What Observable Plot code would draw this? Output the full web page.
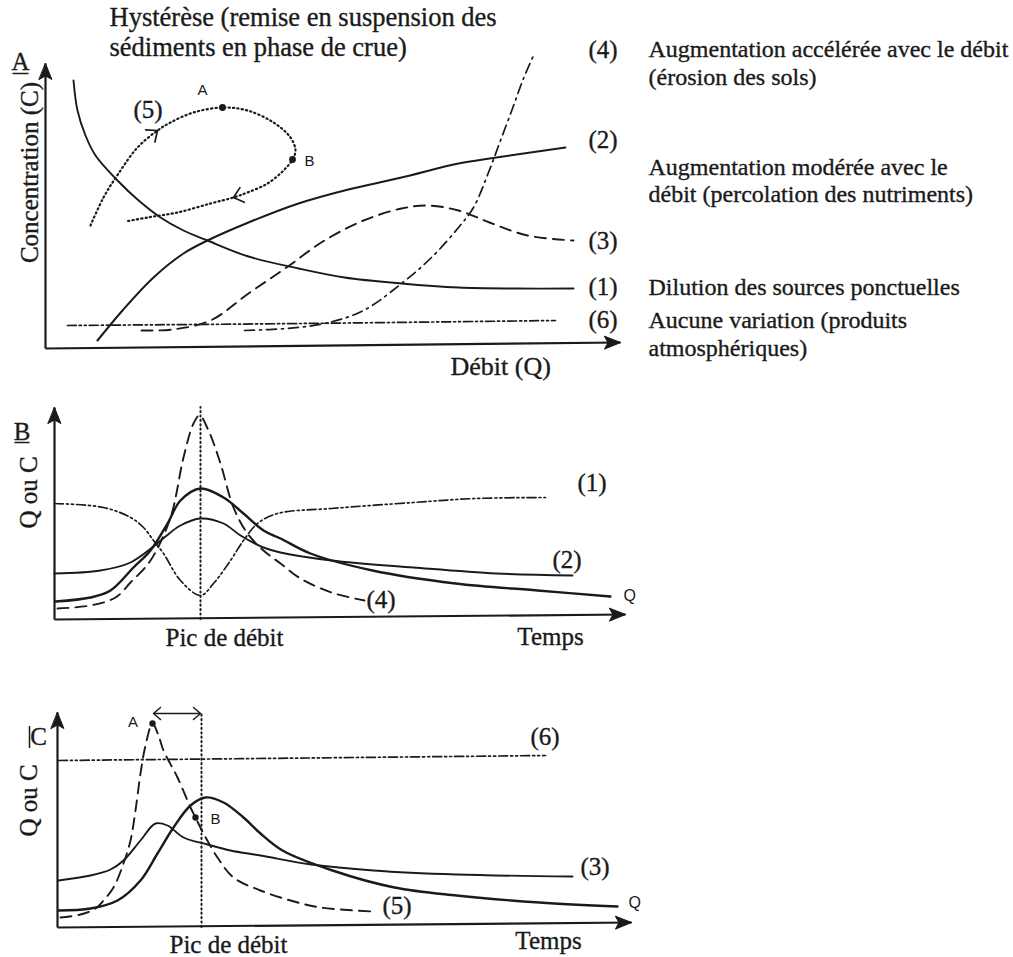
<!DOCTYPE html>
<html>
<head>
<meta charset="utf-8">
<script src="https://cdn.jsdelivr.net/npm/d3@7"></script>
<script src="https://cdn.jsdelivr.net/npm/@observablehq/plot@0.6"></script>
<style>
  html, body { margin: 0; padding: 0; background: #fff; overflow: hidden; }
  #fig { width: 1013px; height: 957px; }
  #fig svg { display: block; }
</style>
</head>
<body>
<div id="fig"></div>
<script>
// Schematic concentration / discharge relations. Units are arbitrary:
// x = discharge (panel A) or time (B, C); y = concentration or discharge.

// ---------- Panel A : C = f(Q) ----------
const A_dilution = [[5.6,53.6],[6.4,47.6],[8,42.6],[10,38.6],[14.4,33.6],[18.4,29.8],[23,26.2],[27.6,23.6],[32.4,21.6],[40.6,18.4],[50.6,16],[59.8,14.2],[71.2,13],[82.6,12.2],[94,12],[105.6,12]];
const A_percolation = [[10.4,1.6],[15.4,7.6],[21.6,14.2],[27.6,19],[32.4,21.6],[40.6,25.2],[50.6,29],[59.8,31.6],[71.2,34.2],[82.6,37],[90.2,38.2],[104,40.2]];
const A_curve3 = [[19.2,3.6],[25.4,3.8],[33,5.6],[40.6,11],[48.2,16.2],[55.8,21.6],[63.6,25.6],[71.2,28],[76.4,28.6],[82.6,27.6],[88.8,25.2],[96.4,22.6],[105.6,21.6]];
const A_erosion = [[39.8,3.6],[48.2,4],[55.8,5],[63.6,7.6],[71.2,13],[77.2,18.2],[82.6,24.2],[85.6,28.2],[88.6,35.2],[91,41.6],[93.4,48],[95.6,54],[97.6,58.6]];
const A_constant = [[4.4,4.6],[51,5],[102,5.6]];
const A_hysteresis = [[9,24.6],[11.6,30.2],[14.6,35],[18.4,40.2],[22.4,43.6],[25,45.2],[29.6,47.2],[35.4,48.2],[40.4,47.6],[45.6,45.2],[49,42.2],[50,39.6],[49.4,37.8],[47.6,35.6],[44.4,33],[40.4,31.2],[37.6,30.2],[33,29],[26.4,27.2],[20.4,26.2],[16,25.4]];
const A_hystArrowAt = [4, 16];           // loop vertices carrying a direction arrow
const A_hystPoints = [{i: 7, name: "A"}, {i: 12, name: "B"}];
const A_axes = [{x1: 0, y1: 0, x2: 115, y2: 1.2}, {x1: 0, y1: 0, x2: 0, y2: 57}];

const A_title = ["Hystérèse (remise en suspension des", "sédiments en phase de crue)"];
const A_numbers = ["(4)", "(2)", "(3)", "(1)", "(6)"];
const A_notes = ["Augmentation accélérée avec le débit", "(érosion des sols)", "Augmentation modérée avec le",
                 "débit (percolation des nutriments)", "Dilution des sources ponctuelles",
                 "Aucune variation (produits", "atmosphériques)"];

// ---------- Panel B : hydrograph and chemographs ----------
const B_time4 = [0.6,7.2,12.2,15.2,19.2,23.2,25.8,27.8,29,30.8,33.2,35.8,38.6,41.8,45.2,49.2,55.4,62];
const B_val4  = [2.2,2.8,4.4,7.4,11.8,20.4,32.4,39.2,40.8,37.8,31.2,22.4,17.2,13.8,11.2,8.2,5.4,3.8];
const B_timeQ = [0.2,7.2,11.2,15.8,19.2,22.6,25.2,29.2,33.8,37.8,41.8,45.2,51.2,63.6,80.2,96.6,111.2];
const B_valQ  = [3.6,4.4,5.8,10.4,13.8,19.2,23.8,26.2,24.4,21.2,17.8,16.2,13.2,9.8,7.2,5.8,4.6];
const B_time2 = [0,9.2,15.2,19.8,22.2,25.2,29.2,33.8,37.2,41.8,45.2,55.4,71.8,88.4,103.6];
const B_val2  = [9.2,9.8,11.4,14.6,16.6,18.8,20.2,19.2,16.8,14.4,13.4,11.8,10.4,9.2,8.8];
const B_time1 = [0,9.8,15.2,17.8,19.8,21.8,25.2,29.2,31.8,35.2,37.8,40.6,44.6,55.4,71.8,84.2,98.2];
const B_val1  = [23.2,22.4,20.4,18.4,15.8,13.2,7.8,4.8,7.2,11.8,15.8,19.2,21.2,22.2,23.4,24.2,24.4];
const B_peakTime = 29.2, B_top = 42.4;
const B_axes = [{x1: 0, y1: 0, x2: 114.2, y2: 1.0}, {x1: 0, y1: 0, x2: 0, y2: 42.4}];

// ---------- Panel C : hydrograph with hysteresis ----------
const C_time5 = [0.6,4.6,7.6,9.2,11.2,13.2,14.6,15.6,16.6,17.6,19,20.2,21.2,24,26.6,27.6,29.2,32,35.2,40.6,46.6,52.6,63.2];
const C_val5  = [2,2.6,3.8,5.4,8,12.8,17.4,23.4,30.8,36.4,40.8,38.4,35.4,30,24,22,18.8,14,10,7.4,5.4,4,3.2];
const C_timeQ = [0.2,6.6,12,16.6,20,23.2,26.6,29.6,33.2,37.2,40.6,45,55,67.4,79.8,96.4,112];
const C_valQ  = [3.4,3.8,5.4,9.4,14.8,20,24.4,26,25,22,18.8,15.4,11.4,8,6.4,5,4.2];
const C_time3 = [0.2,6.6,10.6,13.2,16.6,19.6,22,25.2,30,34.6,40.6,50.8,63.2,79.8,103];
const C_val3  = [9.4,10.4,11.6,13.4,17.4,20.8,20.4,18,16.6,15.4,14.4,12.6,11.4,10.6,10.2];
const C_time6 = [0.2,50,97.6];
const C_val6  = [33.4,33.9,34.4];
const C_points5 = [{i: 10, name: "A"}, {i: 15, name: "B"}];
const C_peakTime = 28.8, C_top = 42.8, C_lagStart = 19.2, C_lagEnd = 28.6;
const C_axes = [{x1: 0, y1: 0, x2: 114.8, y2: 1.0}, {x1: 0, y1: 0, x2: 0, y2: 43}];

// ---------- drawing helpers ----------
const ink = "#1a1a1a";
const SERIF = "Liberation Serif, Times New Roman, serif";
const SANS = "Liberation Sans, Arial, sans-serif";
const zip = (xs, ys) => xs.map((x, i) => [x, ys[i]]);
const DASH = "11,7", DASHDOT = "10,5,2,5", DASHDOTDOT = "9,3,2,3,2,3", DOT = "1.2,3.2";

// filled, notched arrow head for the axes
const headShape = {draw(ctx, l) {
  const w = l * 0.4;
  ctx.moveTo(0, -l); ctx.lineTo(w, 0); ctx.lineTo(0, -l * 0.22); ctx.lineTo(-w, 0); ctx.closePath();
}};
// open chevron for direction arrows
const chevron = {draw(ctx, l) {
  const w = l * 0.85;
  ctx.moveTo(-w, 0); ctx.lineTo(0, -l); ctx.lineTo(w, 0);
}};
const angleOf = (dx, dy) => Math.atan2(dx, dy) * 180 / Math.PI;

function curve(data, opts = {}) {
  return Plot.line(data, {x: d => d[0], y: d => d[1], curve: "catmull-rom", stroke: ink,
    strokeWidth: 2, strokeLinejoin: "round", ...opts});
}
function axes(ax) {
  return [
    Plot.link(ax, {x1: "x1", y1: "y1", x2: "x2", y2: "y2", stroke: ink, strokeWidth: 2.2}),
    Plot.vector(ax, {x: "x2", y: "y2", rotate: d => angleOf(d.x2 - d.x1, d.y2 - d.y1), length: 16,
      shape: headShape, anchor: "end", fill: ink, stroke: ink, strokeWidth: 1})
  ];
}
function label(data, opts = {}) {
  return Plot.text(data, {x: "x", y: "y", text: "t", fontFamily: SERIF, fontSize: 25, fill: ink,
    stroke: ink, strokeWidth: 0.35, textAnchor: "start", lineAnchor: "middle", ...opts});
}
function sansLabel(data, opts = {}) {
  return Plot.text(data, {x: "x", y: "y", text: "t", fontFamily: SANS, fontSize: 15, fill: ink, ...opts});
}
// short underline under a panel letter
function underline(x1, x2, y) {
  return Plot.link([{x1, x2, y}], {x1: "x1", x2: "x2", y1: "y", y2: "y", stroke: ink, strokeWidth: 1.5});
}
function panel(height, xRange, yDomain, yRange, marks) {
  return Plot.plot({
    width: 1013, height, margin: 0,
    x: {domain: [0, 110], range: xRange, axis: null},
    y: {domain: yDomain, range: yRange, axis: null},
    style: {background: "none", overflow: "visible"},
    marks
  });
}

// ---------- Panel A ----------
const hystArrows = A_hystArrowAt.map(i => {
  const [x0, y0] = A_hysteresis[i - 1], [x1, y1] = A_hysteresis[i + 1];
  return {x: A_hysteresis[i][0], y: A_hysteresis[i][1], r: angleOf(x1 - x0, y1 - y0)};
});
const hystDots = A_hystPoints.map(p => ({x: A_hysteresis[p.i][0], y: A_hysteresis[p.i][1], name: p.name}));

const plotA = panel(388, [45, 595], [0, 58], [348, 58], [
  ...axes(A_axes),
  curve(A_dilution, {strokeWidth: 1.9}),
  curve(A_percolation, {strokeWidth: 2}),
  curve(A_curve3, {strokeDasharray: DASH, strokeWidth: 1.9}),
  curve(A_erosion, {strokeDasharray: DASHDOT, strokeWidth: 1.7}),
  curve(A_constant, {strokeDasharray: DASHDOTDOT, strokeWidth: 1.7}),
  curve(A_hysteresis, {strokeDasharray: DOT, strokeWidth: 2.2, strokeLinecap: "round"}),
  Plot.vector(hystArrows, {x: "x", y: "y", rotate: "r", length: 9, shape: chevron, anchor: "end",
    stroke: ink, strokeWidth: 1.7}),
  Plot.dot(hystDots, {x: "x", y: "y", r: 3.4, fill: ink}),
  sansLabel([{x: 31.4, y: 51.6, t: "A"}, {x: 52.8, y: 37.4, t: "B"}]),
  label([{x: 17.6, y: 47.8, t: "(5)"}]),
  label([{x: 12.8, y: 66.1, t: A_title[0]}, {x: 12.8, y: 60.2, t: A_title[1]}], {fontSize: 26.5}),
  label([59.8, 41.8, 21.6, 12.4, 5.8].map((y, i) => ({x: 108.6, y, t: A_numbers[i]}))),
  label([59.8, 54.2, 36.2, 30.8, 12.3, 5.7, 0].map((y, i) => ({x: 120.6, y, t: A_notes[i]})), {fontSize: 24}),
  label([{x: 81, y: -3.6, t: "Débit (Q)"}], {fontSize: 26}),
  label([{x: -3.2, y: 35.2, t: "Concentration (C)"}], {rotate: -90, textAnchor: "middle"}),
  label([{x: -5, y: 57.4, t: "A"}], {textAnchor: "middle"}),
  underline(-6.6, -3.4, 55)
]);

// ---------- Panel B ----------
const plotB = panel(268, [54, 604], [0, 40], [231, 31], [
  Plot.ruleX([B_peakTime], {y1: 0, y2: B_top, stroke: ink, strokeWidth: 2, strokeDasharray: DOT, strokeLinecap: "round"}),
  ...axes(B_axes),
  curve(zip(B_time1, B_val1), {strokeDasharray: DASHDOTDOT, strokeWidth: 1.7}),
  curve(zip(B_time2, B_val2), {strokeWidth: 1.9}),
  curve(zip(B_timeQ, B_valQ), {strokeWidth: 2.4}),
  curve(zip(B_time4, B_val4), {strokeDasharray: DASH, strokeWidth: 1.9}),
  label([{x: 104.6, y: 27.4, t: "(1)"}, {x: 99.6, y: 12, t: "(2)"}, {x: 62.4, y: 4, t: "(4)"}]),
  sansLabel([{x: 113.8, y: 4.8, t: "Q"}], {fontSize: 16, textAnchor: "start"}),
  label([{x: 34, y: -3.6, t: "Pic de débit"}, {x: 99.2, y: -3.4, t: "Temps"}], {textAnchor: "middle"}),
  label([{x: -5.2, y: 25.4, t: "Q ou C"}], {rotate: -90, textAnchor: "middle"}),
  label([{x: -6.5, y: 37.6, t: "B"}], {textAnchor: "middle"}),
  underline(-8, -5, 35.4)
]);

// ---------- Panel C ----------
const lag = [{x1: C_lagStart, x2: C_lagEnd, y: C_top}];
const lagHeads = [{x: C_lagStart, y: C_top, r: 270}, {x: C_lagEnd, y: C_top, r: 90}];
const dots5 = C_points5.map(p => ({x: C_time5[p.i], y: C_val5[p.i], name: p.name}));

const plotC = panel(301, [57, 607], [0, 40], [271, 71], [
  Plot.ruleX([C_peakTime], {y1: 0, y2: C_top, stroke: ink, strokeWidth: 2, strokeDasharray: DOT, strokeLinecap: "round"}),
  ...axes(C_axes),
  curve(zip(C_time6, C_val6), {strokeDasharray: DASHDOTDOT, strokeWidth: 1.7}),
  curve(zip(C_time3, C_val3), {strokeWidth: 1.9}),
  curve(zip(C_timeQ, C_valQ), {strokeWidth: 2.4}),
  curve(zip(C_time5, C_val5), {strokeDasharray: DASH, strokeWidth: 1.9}),
  Plot.link(lag, {x1: "x1", x2: "x2", y1: "y", y2: "y", stroke: ink, strokeWidth: 1.5}),
  Plot.vector(lagHeads, {x: "x", y: "y", rotate: "r", length: 7, shape: chevron, anchor: "end",
    stroke: ink, strokeWidth: 1.5}),
  Plot.dot(dots5, {x: "x", y: "y", r: 3.2, fill: ink}),
  sansLabel([{x: 15.1, y: 41, t: "A"}, {x: 31.6, y: 21.6, t: "B"}]),
  label([{x: 94.6, y: 38.2, t: "(6)"}, {x: 104.6, y: 12.2, t: "(3)"}, {x: 65, y: 4.4, t: "(5)"}]),
  sansLabel([{x: 114.2, y: 5, t: "Q"}], {fontSize: 16, textAnchor: "start"}),
  label([{x: 34.2, y: -3.4, t: "Pic de débit"}, {x: 98.2, y: -2.6, t: "Temps"}], {textAnchor: "middle"}),
  label([{x: -5.8, y: 25.4, t: "Q ou C"}], {rotate: -90, textAnchor: "middle"}),
  Plot.ruleX([-5.6], {y1: 35.8, y2: 40.2, stroke: ink, strokeWidth: 1.5}),
  label([{x: -3.8, y: 38.1, t: "C"}], {textAnchor: "middle"})
]);

document.getElementById("fig").append(plotA, plotB, plotC);
</script>
</body>
</html>
